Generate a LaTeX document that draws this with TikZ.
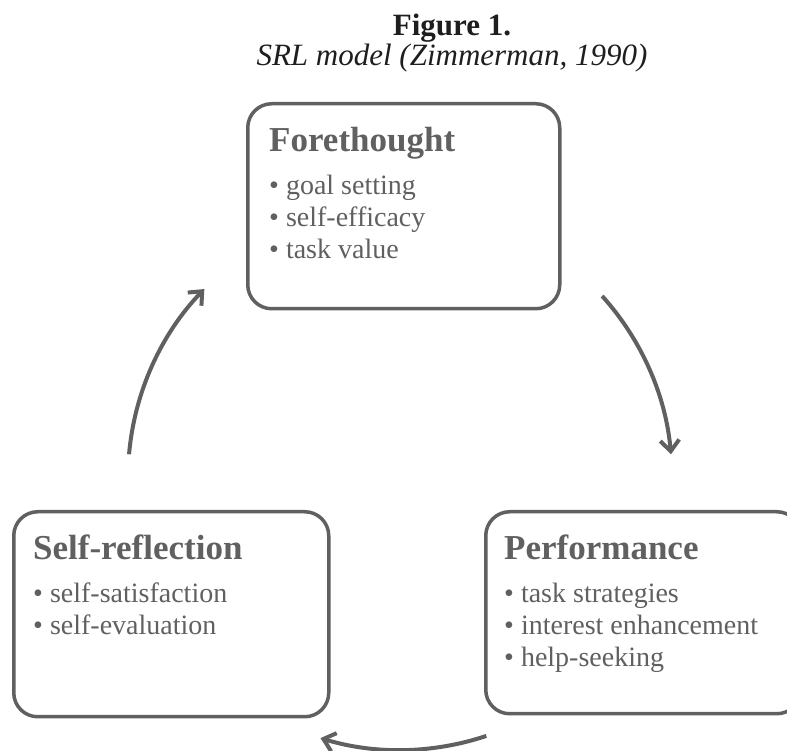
\documentclass[tikz,border=0pt]{standalone}
\usepackage{fontspec}
\setmainfont{Liberation Serif}
\usetikzlibrary{arrows.meta,calc}
\definecolor{phasegray}{RGB}{96,96,96}
\definecolor{titleink}{RGB}{30,30,30}
\tikzset{
  phase/.style={draw=phasegray, line width=3.5pt, rounded corners=24pt, anchor=north west, inner sep=0pt},
  phasehead/.style={anchor=base west, inner sep=0pt, text=phasegray, font=\fontsize{35}{40}\selectfont\bfseries},
  phaseitem/.style={anchor=base west, inner sep=0pt, text=phasegray, font=\fontsize{28}{32}\selectfont},
  cyclearrow/.style={draw=phasegray, line width=4pt, -{Straight Barb[length=11pt,width=19pt]}}
}
\begin{document}
\begin{tikzpicture}[x=1pt, y=1pt]
  \useasboundingbox (0,0) rectangle (787,751);
  % title
  \node[anchor=base, inner sep=0pt, text=titleink, font=\fontsize{31}{36}\selectfont\bfseries] (title) at (452,715) {Figure 1.};
  \node[anchor=base, inner sep=0pt, text=titleink, font=\fontsize{31}{36}\selectfont\itshape] (subtitle) at (452,685) {SRL model (Zimmerman, 1990)};

  % the three phases
  \node[phase, minimum width=312pt, minimum height=205pt] (fore) at (246,649) {};
  \node[phase, minimum width=315pt, minimum height=205pt] (self) at (12,241) {};
  \node[phase, minimum width=315pt, minimum height=202pt] (perf) at (484,241) {};

  \node[phasehead] (fore-head) at ($(fore.north west)+(23,-50)$) {Forethought};
  \foreach \txt [count=\i] in {goal setting, self-efficacy, task value}
    \node[phaseitem] (fore-\i) at ($(fore-head.base west)+(0,-11-32*\i)$) {\textbullet\ \txt};

  \node[phasehead] (perf-head) at ($(perf.north west)+(20,-50)$) {Performance};
  \foreach \txt [count=\i] in {task strategies, interest enhancement, help-seeking}
    \node[phaseitem] (perf-\i) at ($(perf-head.base west)+(0,-11-32*\i)$) {\textbullet\ \txt};

  \node[phasehead] (self-head) at ($(self.north west)+(21,-50)$) {Self-reflection};
  \foreach \txt [count=\i] in {self-satisfaction, self-evaluation}
    \node[phaseitem] (self-\i) at ($(self-head.base west)+(0,-11-32*\i)$) {\textbullet\ \txt};

  % cycle arrows
  \coordinate (hub) at (400,273);
  \coordinate (fore-out) at ($(hub)+(42:272)$);
  \coordinate (perf-out) at ($(hub)+(-71.5:272)$);
  \coordinate (self-out) at ($(hub)+(175:272)$);
  \draw[cyclearrow] (fore-out) arc[start angle=42, end angle=5, radius=272];
  \draw[cyclearrow] (perf-out) arc[start angle=-71.5, end angle=-107, radius=272];
  \draw[cyclearrow] (self-out) arc[start angle=175, end angle=136, radius=272];
\end{tikzpicture}
\end{document}
